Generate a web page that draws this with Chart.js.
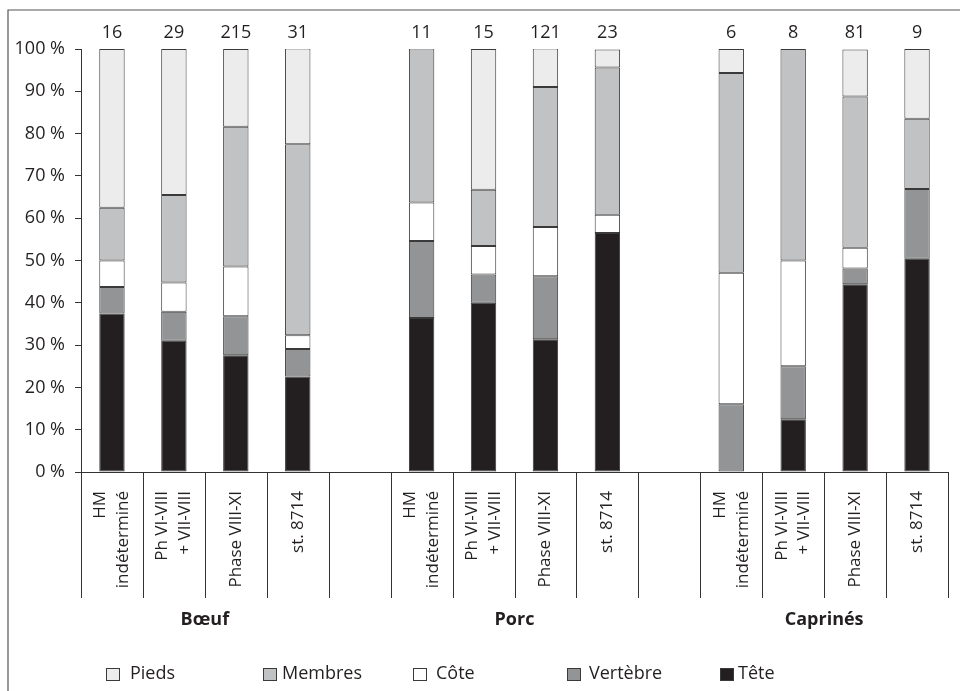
<!DOCTYPE html>
<html>
<head>
<meta charset="utf-8">
<script src="https://cdn.jsdelivr.net/npm/chart.js@4/dist/chart.umd.min.js"></script>
<style>
  html, body { margin: 0; padding: 0; background: #ffffff; }
  #wrap { width: 960px; height: 691px; }
</style>
</head>
<body>
<div id="wrap"><canvas id="c" width="960" height="691"></canvas></div>
<script>
// ---- Data ----
const categories = [
  ['HM', 'indéterminé'], ['Ph VI-VIII', '+ VII-VIII'], 'Phase VIII-XI', 'st. 8714', '',
  ['HM', 'indéterminé'], ['Ph VI-VIII', '+ VII-VIII'], 'Phase VIII-XI', 'st. 8714', '',
  ['HM', 'indéterminé'], ['Ph VI-VIII', '+ VII-VIII'], 'Phase VIII-XI', 'st. 8714'
];
const counts = [16, 29, 215, 31, null, 11, 15, 121, 23, null, 6, 8, 81, 9];
const groupLabels = ['Bœuf', 'Porc', 'Caprinés'];
const groupFirstIndex = [0, 5, 10];
const groupLastIndex = [3, 8, 13];

const tete     = [37.5, 31.0, 27.6, 22.6, null, 36.4, 40.0, 31.4, 56.5, null, 0,    12.5, 44.4, 50.4];
const vertebre = [6.25, 6.9,  9.2,  6.5,  null, 18.2, 6.7,  14.9, 0,    null, 16.0, 12.5, 3.7,  16.5];
const cote     = [6.25, 6.9,  11.8, 3.2,  null, 9.1,  6.7,  11.6, 4.3,  null, 31.1, 25.0, 4.9,  0];
const membres  = [12.5, 20.7, 33.0, 45.2, null, 36.4, 13.3, 33.1, 34.8, null, 47.2, 50.0, 35.8, 16.6];
const pieds    = [37.5, 34.5, 18.4, 22.6, null, 0,    33.3, 9.1,  4.3,  null, 5.7,  0,    11.1, 16.5];

const seriesNames = ['Tête', 'Vertèbre', 'Côte', 'Membres', 'Pieds'];
const yTicks = [0, 10, 20, 30, 40, 50, 60, 70, 80, 90, 100];

// ---- Styles ----
const FONT = '"Open Sans", "DejaVu Sans", sans-serif';
const TEXT = '#231f20';
const EDGE = '#3a3a3a';
const fills = ['#231f20', '#939496', '#ffffff', '#c1c2c4', '#ececec'];
const LABEL_SIZE = 17;
const LABEL_LH = 1.35;
const MAIN_SIZE = 18;

const seriesData = [tete, vertebre, cote, membres, pieds];
const datasets = seriesNames.map((name, i) => ({
  label: name,
  data: seriesData[i],
  backgroundColor: fills[i],
  borderColor: EDGE,
  borderWidth: 1,
  borderSkipped: false,
  barPercentage: 0.41,
  categoryPercentage: 1.0
}));

const decor = {
  id: 'decor',
  afterDraw(chart) {
    const ctx = chart.ctx;
    const xs = chart.scales.x;
    const area = chart.chartArea;
    ctx.save();
    // frame
    ctx.strokeStyle = '#555';
    ctx.lineWidth = 1.2;
    ctx.beginPath();
    ctx.moveTo(8, 691);
    ctx.lineTo(8, 10);
    ctx.lineTo(960, 10);
    ctx.stroke();

    // counts above bars
    ctx.fillStyle = TEXT;
    ctx.font = MAIN_SIZE + 'px ' + FONT;
    ctx.textAlign = 'center';
    ctx.textBaseline = 'middle';
    counts.forEach((n, i) => {
      if (n === null) return;
      ctx.fillText(String(n), xs.getPixelForValue(i), area.top - 16);
    });

    // separators under the axis
    const catW = (xs.right - xs.left) / categories.length;
    ctx.strokeStyle = '#333';
    ctx.lineWidth = 1;
    for (let k = 0; k <= categories.length; k++) {
      const x = Math.round(xs.left + k * catW) + 0.5;
      ctx.beginPath();
      ctx.moveTo(x, area.bottom);
      ctx.lineTo(x, area.bottom + 126);
      ctx.stroke();
    }

    // group labels
    ctx.font = 'bold ' + MAIN_SIZE + 'px ' + FONT;
    ctx.fillStyle = TEXT;
    groupLabels.forEach((g, i) => {
      const x = (xs.getPixelForValue(groupFirstIndex[i]) + xs.getPixelForValue(groupLastIndex[i])) / 2;
      ctx.fillText(g, x, area.bottom + 148);
    });

    // legend (reverse stacking order)
    const boxX = [106, 263, 413, 567, 720];
    const txtX = [130, 282, 436, 589, 738];
    const order = chart.data.datasets.map((d, i) => i).reverse();
    ctx.font = MAIN_SIZE + 'px ' + FONT;
    ctx.textAlign = 'left';
    ctx.textBaseline = 'alphabetic';
    order.forEach((di, j) => {
      const ds = chart.data.datasets[di];
      ctx.fillStyle = ds.backgroundColor;
      ctx.fillRect(boxX[j] + 0.5, 668.5, 13, 12);
      ctx.strokeStyle = EDGE;
      ctx.lineWidth = 1;
      ctx.strokeRect(boxX[j] + 0.5, 668.5, 13, 12);
      ctx.fillStyle = TEXT;
      ctx.fillText(ds.label, txtX[j], 679);
    });
    ctx.restore();
  }
};

new Chart(document.getElementById('c'), {
  type: 'bar',
  data: { labels: categories, datasets: datasets },
  options: {
    responsive: false,
    animation: false,
    devicePixelRatio: 1,
    layout: { padding: { top: 49, right: 12, bottom: 0, left: 0 } },
    plugins: { legend: { display: false }, tooltip: { enabled: false } },
    scales: {
      x: {
        stacked: true,
        afterFit(scale) { scale.height = 691 - 472; },
        grid: { display: false },
        border: { display: true, color: '#333', width: 1 },
        ticks: {
          autoSkip: false,
          maxRotation: 90,
          minRotation: 90,
          padding: 11,
          color: TEXT,
          font: { family: FONT, size: LABEL_SIZE, lineHeight: LABEL_LH },
          // centre multi-line rotated labels on their bar
          labelOffset: -(LABEL_SIZE * LABEL_LH) / 2,
          showLabelBackdrop: (c) => !Array.isArray(categories[c.index]),
          backdropColor: 'rgba(0,0,0,0)',
          backdropPadding: 0
        }
      },
      y: {
        stacked: true,
        min: 0,
        max: 100,
        afterFit(scale) { scale.width = 81; },
        afterBuildTicks(scale) { scale.ticks = yTicks.map(v => ({ value: v })); },
        grid: { display: true, drawOnChartArea: false, drawTicks: true, tickLength: 6, color: '#333' },
        border: { display: true, color: '#333', width: 1 },
        ticks: {
          padding: 10,
          color: TEXT,
          font: { family: FONT, size: MAIN_SIZE },
          callback: v => v + ' %'
        }
      }
    }
  },
  plugins: [decor]
});
</script>
</body>
</html>
